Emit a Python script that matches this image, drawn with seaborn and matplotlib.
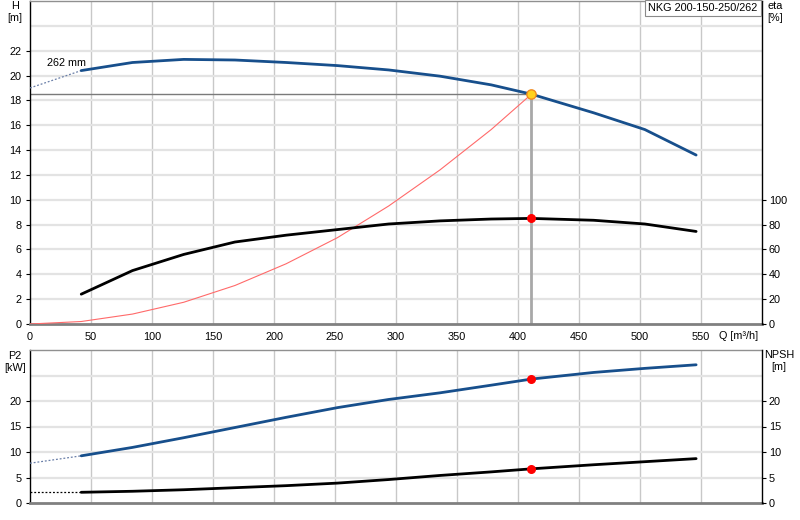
import numpy as np
import pandas as pd
import matplotlib
matplotlib.use("Agg")
import matplotlib.pyplot as plt
import seaborn as sns

# Data
q = [42, 84, 126, 168, 210, 252, 294, 336, 378, 411, 462, 504, 546]
head = [20.4, 21.05, 21.3, 21.25, 21.05, 20.8, 20.45, 19.95, 19.25, 18.5, 17.0, 15.65, 13.6]
eta = [24, 43, 56, 66, 71.5, 76, 80.5, 83, 84.5, 85, 83.5, 80.5, 74.5]
p2 = [9.25, 10.9, 12.8, 14.8, 16.8, 18.7, 20.3, 21.6, 23.1, 24.3, 25.6, 26.4, 27.1]
npsh = [2.1, 2.3, 2.6, 3.0, 3.4, 3.9, 4.6, 5.4, 6.1, 6.7, 7.5, 8.1, 8.7]

q_ext = [0, 42]
head_ext = [19.0, 20.4]
p2_ext = [7.8, 9.25]
npsh_ext = [2.1, 2.1]

q_sys = [0, 42, 84, 126, 168, 210, 252, 294, 336, 378, 411]
h_sys = [0, 0.2, 0.8, 1.75, 3.1, 4.85, 6.95, 9.5, 12.4, 15.65, 18.5]

q_duty = 411
h_duty = 18.5
eta_duty = 85
p2_duty = 24.3
npsh_duty = 6.7

pump_name = "NKG 200-150-250/262"
impeller = "262 mm"

df = pd.DataFrame({"Q": q, "H": head, "eta": eta, "P2": p2, "NPSH": npsh})
df_ext = pd.DataFrame({"Q": q_ext, "H": head_ext, "P2": p2_ext, "NPSH": npsh_ext})
df_sys = pd.DataFrame({"Q": q_sys, "H": h_sys})

sns.set_theme(style="white")
plt.rcParams["font.family"] = ["Liberation Sans", "DejaVu Sans"]
plt.rcParams["font.size"] = 7.8
plt.rcParams["text.color"] = "black"
plt.rcParams["xtick.color"] = "black"
plt.rcParams["ytick.color"] = "black"

fs = 7.8
blue = "#174f8c"
grid_h = "#e3e3e3"
grid_v = "#c8c8c8"

fig = plt.figure(figsize=(8, 5.2), dpi=100)
ax1 = fig.add_axes([30 / 800, 1 - 324 / 520, 732 / 800, 323 / 520])
ax2 = fig.add_axes([30 / 800, 1 - 503 / 520, 732 / 800, 153 / 520])


def style_axes(ax, ymax, yticks, extra_grid):
    ax.set_xlim(0, 600)
    ax.set_ylim(0, ymax)
    ax.set_xticks(range(0, 601, 50))
    ax.set_yticks(yticks)
    ax.grid(False)
    for xv in range(50, 600, 50):
        ax.axvline(xv, color=grid_v, lw=1, zorder=0)
    for yv in list(yticks[1:]) + [extra_grid]:
        ax.axhline(yv, color=grid_h, lw=1.6, zorder=0)
    ax.spines["left"].set_color("black")
    ax.spines["left"].set_linewidth(1)
    ax.spines["bottom"].set_color("#808080")
    ax.spines["bottom"].set_linewidth(2)
    ax.spines["top"].set_color("#909090")
    ax.spines["top"].set_linewidth(1)
    ax.spines["right"].set_visible(False)
    ax.tick_params(axis="y", direction="out", length=3, width=0.8, colors="black",
                   labelsize=fs, pad=3)
    ax.set_xlabel("")
    ax.set_ylabel("")


def style_twin(tw, ymax, yticks):
    tw.set_ylim(0, ymax)
    tw.set_yticks(yticks)
    tw.grid(False)
    for s in ["left", "top", "bottom"]:
        tw.spines[s].set_visible(False)
    tw.spines["right"].set_color("black")
    tw.spines["right"].set_linewidth(1)
    tw.tick_params(axis="y", direction="out", length=3, width=0.8, colors="black",
                   labelsize=fs, pad=2)
    tw.set_ylabel("")


# ---- top panel: H and eta ----
style_axes(ax1, 26, list(range(0, 23, 2)), 24)
ax1.tick_params(axis="x", direction="out", length=3, width=0.8, colors="black",
                labelsize=fs, pad=3)
ax1.set_xticklabels([str(v) for v in range(0, 551, 50)] + [""])

ax1.plot([0, q_duty], [h_duty, h_duty], color="#7a7a7a", lw=1, zorder=2)
ax1.plot([q_duty, q_duty], [0, h_duty], color="#a8a8a8", lw=2, zorder=2)
sns.lineplot(data=df_sys, x="Q", y="H", ax=ax1, color="#ff6a6a", lw=0.8, zorder=3)
sns.lineplot(data=df_ext, x="Q", y="H", ax=ax1, color="#6a7fa8", lw=0.9,
             linestyle=(0, (1.5, 1.5)), zorder=3)
sns.lineplot(data=df, x="Q", y="H", ax=ax1, color=blue, lw=2, zorder=4)
ax1.scatter([q_duty], [h_duty], s=45, color="#ffd21f", edgecolor="#f08a20",
            linewidth=1, zorder=6)
ax1.text(14, 21.0, impeller, fontsize=fs, ha="left", va="center")
ax1.set_xlabel("")
ax1.set_ylabel("")
ax1.annotate("Q [m³/h]", xy=(565, 0), xycoords=("data", "axes fraction"),
             xytext=(0, -5), textcoords="offset points", ha="left", va="top",
             fontsize=fs)

tw1 = ax1.twinx()
style_twin(tw1, 260, list(range(0, 101, 20)))
sns.lineplot(data=df, x="Q", y="eta", ax=tw1, color="black", lw=2, zorder=4)
tw1.scatter([q_duty], [eta_duty], s=30, color="red", zorder=6)
tw1.set_ylabel("")
tw1.set_xlabel("")

fig.text(15 / 800, 1 - 6 / 520, "H", ha="center", va="center", fontsize=fs)
fig.text(15 / 800, 1 - 18 / 520, "[m]", ha="center", va="center", fontsize=fs)
fig.text(767 / 800, 1 - 6 / 520, "eta", ha="left", va="center", fontsize=fs)
fig.text(767 / 800, 1 - 18 / 520, "[%]", ha="left", va="center", fontsize=fs)
fig.text(703 / 800, 1 - 8 / 520, pump_name, ha="center", va="center", fontsize=fs,
         bbox=dict(boxstyle="square,pad=0.3", fc="white", ec="#8a8a8a", lw=0.8),
         zorder=10)

# ---- bottom panel: P2 and NPSH ----
style_axes(ax2, 30, list(range(0, 21, 5)), 25)
ax2.tick_params(axis="x", length=0, labelbottom=False)

sns.lineplot(data=df_ext, x="Q", y="P2", ax=ax2, color="#6a7fa8", lw=0.9,
             linestyle=(0, (1.5, 1.5)), zorder=3)
sns.lineplot(data=df, x="Q", y="P2", ax=ax2, color=blue, lw=2, zorder=4)
ax2.scatter([q_duty], [p2_duty], s=30, color="red", zorder=6)
ax2.set_xlabel("")
ax2.set_ylabel("")

tw2 = ax2.twinx()
style_twin(tw2, 30, list(range(0, 21, 5)))
sns.lineplot(data=df_ext, x="Q", y="NPSH", ax=tw2, color="black", lw=0.9,
             linestyle=(0, (1.5, 1.5)), zorder=3)
sns.lineplot(data=df, x="Q", y="NPSH", ax=tw2, color="black", lw=2, zorder=4)
tw2.scatter([q_duty], [npsh_duty], s=30, color="red", zorder=6)
tw2.set_ylabel("")
tw2.set_xlabel("")

fig.text(15 / 800, 1 - 356 / 520, "P2", ha="center", va="center", fontsize=fs)
fig.text(15 / 800, 1 - 368 / 520, "[kW]", ha="center", va="center", fontsize=fs)
fig.text(779 / 800, 1 - 355 / 520, "NPSH", ha="center", va="center", fontsize=fs)
fig.text(779 / 800, 1 - 367 / 520, "[m]", ha="center", va="center", fontsize=fs)

fig.savefig("out.png", dpi=100)
